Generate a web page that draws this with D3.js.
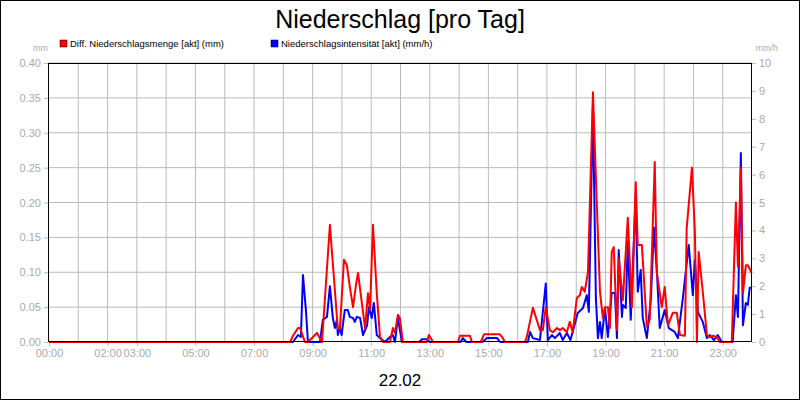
<!DOCTYPE html>
<html><head><meta charset="utf-8">
<script src="https://cdn.jsdelivr.net/npm/d3@7"></script>
<style>body{margin:0;background:#fff}svg{display:block;font-family:Arial,"Liberation Sans",sans-serif}</style>
</head><body><svg id="c" width="800" height="400"></svg>
<script>
const title = "Niederschlag [pro Tag]";
const dateLabel = "22.02";
const seriesNames = ["Diff. Niederschlagsmenge [akt] (mm)", "Niederschlagsintensität [akt] (mm/h)"];
const xTickHours = [0, 2, 3, 5, 7, 9, 11, 13, 15, 17, 19, 21, 23];
const leftTicks = [0, 0.05, 0.10, 0.15, 0.20, 0.25, 0.30, 0.35, 0.40];
const rightTicks = [0,1,2,3,4,5,6,7,8,9,10];
// [hour, mm]
const amount = [[0,0],[8.23,0],[8.33,0.009],[8.50,0.02],[8.57,0.02],[8.74,0],[8.84,0],[9.15,0.013],[9.32,0],[9.59,0.168],[9.86,0.019],[9.93,0.019],[10.07,0.118],[10.17,0.11],[10.27,0.079],[10.38,0.05],[10.48,0.082],[10.55,0.099],[10.79,0.02],[10.89,0.07],[10.96,0.046],[11.06,0.168],[11.19,0.07],[11.30,0.007],[11.40,0],[11.64,0],[11.74,0.02],[11.81,0.013],[11.91,0.039],[11.98,0.034],[12.08,0],[12.90,0],[12.97,0.01],[13.11,0],[13.96,0],[14.03,0.009],[14.37,0.009],[14.44,0],[14.74,0],[14.85,0.011],[15.39,0.011],[15.49,0.006],[15.56,0],[16.25,0],[16.31,0.007],[16.52,0.049],[16.76,0.017],[16.86,0.017],[16.96,0.05],[17.10,0.017],[17.20,0.014],[17.34,0.02],[17.44,0.017],[17.54,0.02],[17.68,0.014],[17.78,0.029],[17.88,0.014],[18.02,0.063],[18.12,0.067],[18.19,0.079],[18.29,0.072],[18.40,0.10],[18.57,0.358],[18.70,0.20],[18.81,0.072],[18.91,0.034],[18.98,0.05],[19.08,0.05],[19.15,0.02],[19.21,0.129],[19.28,0.136],[19.39,0.017],[19.45,0.12],[19.59,0.06],[19.76,0.178],[19.90,0.05],[20.03,0.229],[20.10,0.139],[20.24,0.139],[20.41,0.022],[20.51,0.032],[20.68,0.258],[20.75,0.10],[20.92,0.05],[21.02,0.079],[21.13,0.024],[21.30,0.042],[21.43,0.042],[21.54,0.01],[21.71,0.009],[21.77,0.163],[21.95,0.25],[22.05,0.158],[22.12,0],[22.18,0.129],[22.32,0.072],[22.46,0.01],[22.56,0.007],[22.66,0.009],[22.80,0.007],[22.90,0],[23.31,0],[23.45,0.2],[23.52,0.108],[23.62,0.25],[23.69,0.07],[23.79,0.11],[23.86,0.11],[23.99,0.099]];
// [hour, mm/h]
const intensity = [[0,0],[8.33,0],[8.50,0.25],[8.60,0.18],[8.67,2.4],[8.77,1.15],[8.84,0],[9.25,0],[9.35,0.8],[9.49,0.9],[9.59,2.0],[9.69,0.86],[9.76,0.5],[9.83,0.8],[9.86,0.25],[9.93,0.5],[9.99,0.25],[10.10,1.15],[10.20,1.15],[10.27,0.9],[10.38,0.86],[10.44,0.72],[10.51,0.9],[10.62,0.86],[10.72,0.25],[10.86,0.6],[10.92,1.25],[11.02,0.86],[11.09,1.4],[11.19,0.25],[11.30,0.14],[11.47,0],[11.64,0.18],[11.74,0.25],[11.81,0],[11.91,0.86],[12.05,0],[12.65,0],[12.73,0.1],[12.90,0.1],[13.0,0],[14.05,0],[14.13,0.14],[14.25,0],[14.80,0],[14.95,0.14],[15.3,0.14],[15.4,0],[16.35,0],[16.42,0.36],[16.52,0.14],[16.76,0.07],[16.96,2.1],[17.03,0.07],[17.17,0.25],[17.27,0.14],[17.44,0.32],[17.54,0.07],[17.68,0.32],[17.80,0.07],[17.88,0.36],[18.05,1.04],[18.23,1.22],[18.36,1.68],[18.43,1.08],[18.57,8.5],[18.67,1.58],[18.74,0.14],[18.81,0.72],[18.87,0.14],[18.98,1.22],[19.08,0.18],[19.21,1.76],[19.32,1.76],[19.39,0.14],[19.45,3.3],[19.56,0.9],[19.59,1.33],[19.69,1.22],[19.76,3.6],[19.86,0.8],[20.03,5.27],[20.10,1.8],[20.20,2.58],[20.27,0.86],[20.41,0.14],[20.55,1.58],[20.65,4.1],[20.75,2.58],[20.85,0.5],[21.02,1.15],[21.16,0.5],[21.36,0.36],[21.47,0.14],[21.64,1.58],[21.84,3.48],[21.98,1.68],[22.05,2.94],[22.15,1.08],[22.32,0.72],[22.46,0.14],[22.56,0.25],[22.70,0.07],[22.83,0.25],[22.97,0],[23.34,0],[23.45,1.68],[23.52,0.9],[23.62,6.77],[23.69,0.6],[23.79,1.4],[23.86,1.33],[23.92,1.94],[23.99,1.94]];

const svg = d3.select("#c");
const L=48, R=752, T=63, B=342;
const x = d3.scaleLinear().domain([0,24]).range([L+1,R]);
const yL = d3.scaleLinear().domain([0,0.4]).range([B,T]);
const yR = d3.scaleLinear().domain([0,10]).range([B,T]);
const grey="#bbbbbb", lab="#aaaaaa";

svg.append("rect").attr("x",0.5).attr("y",0.5).attr("width",799).attr("height",399).attr("fill","#fff").attr("stroke","#000");
// grid
const g = svg.append("g");
g.selectAll("line.v").data(d3.range(1,24)).join("line").attr("x1",d=>x(d)).attr("x2",d=>x(d)).attr("y1",T).attr("y2",B).attr("stroke",grey);
g.selectAll("line.h").data(leftTicks.slice(1)).join("line").attr("x1",L).attr("x2",R).attr("y1",d=>yL(d)).attr("y2",d=>yL(d)).attr("stroke",grey);

// axes
const axL = svg.append("g").attr("transform",`translate(${L},0)`).call(d3.axisLeft(yL).tickValues(leftTicks).tickFormat(d3.format(".2f")).tickSize(4).tickPadding(3));
const axR = svg.append("g").attr("transform",`translate(${R},0)`).call(d3.axisRight(yR).tickValues(rightTicks).tickSize(4).tickPadding(3));
const axB = svg.append("g").attr("transform",`translate(0,${B})`).call(d3.axisBottom(x).tickValues(xTickHours).tickFormat(h=>String(h).padStart(2,"0")+":00").tickSize(4).tickPadding(3));
[axL,axR,axB].forEach(a=>{a.select(".domain").remove();a.selectAll("line").attr("stroke",grey);a.selectAll("text").attr("fill",lab).style("font-size","11px");});

// lines
const lineR = d3.line().x(d=>x(d[0])).y(d=>yR(d[1]));
const lineL = d3.line().x(d=>x(d[0])).y(d=>yL(d[1]));
svg.append("path").datum(intensity).attr("d",lineR).attr("fill","none").attr("stroke","#0000ff").attr("stroke-width",2).attr("stroke-linejoin","round");
svg.append("path").datum(amount).attr("d",lineL).attr("fill","none").attr("stroke","#ff0000").attr("stroke-width",2).attr("stroke-linejoin","round");

svg.append("rect").attr("x",L+0.5).attr("y",T+0.5).attr("width",R-L-1).attr("height",B-T-1).attr("fill","none").attr("stroke","#000");

// texts
svg.append("text").attr("x",400).attr("y",28).attr("text-anchor","middle").style("font-size","25px").text(title);
svg.append("text").attr("x",400).attr("y",386).attr("text-anchor","middle").style("font-size","17px").text(dateLabel);
svg.append("text").attr("x",33).attr("y",51).attr("fill",lab).style("font-size","9px").text("mm");
svg.append("text").attr("x",778).attr("y",51).attr("text-anchor","end").attr("fill",lab).style("font-size","9px").text("mm/h");
const leg = [[60,"#ff0000"],[271,"#0000ff"]];
leg.forEach((l,i)=>{
  svg.append("rect").attr("x",l[0]).attr("y",40).attr("width",7).attr("height",7).attr("fill",l[1]).attr("stroke","#000").attr("stroke-width",0.5);
  svg.append("text").attr("x",l[0]+10).attr("y",47).style("font-size","9.5px").text(seriesNames[i]);
});
</script></body></html>
